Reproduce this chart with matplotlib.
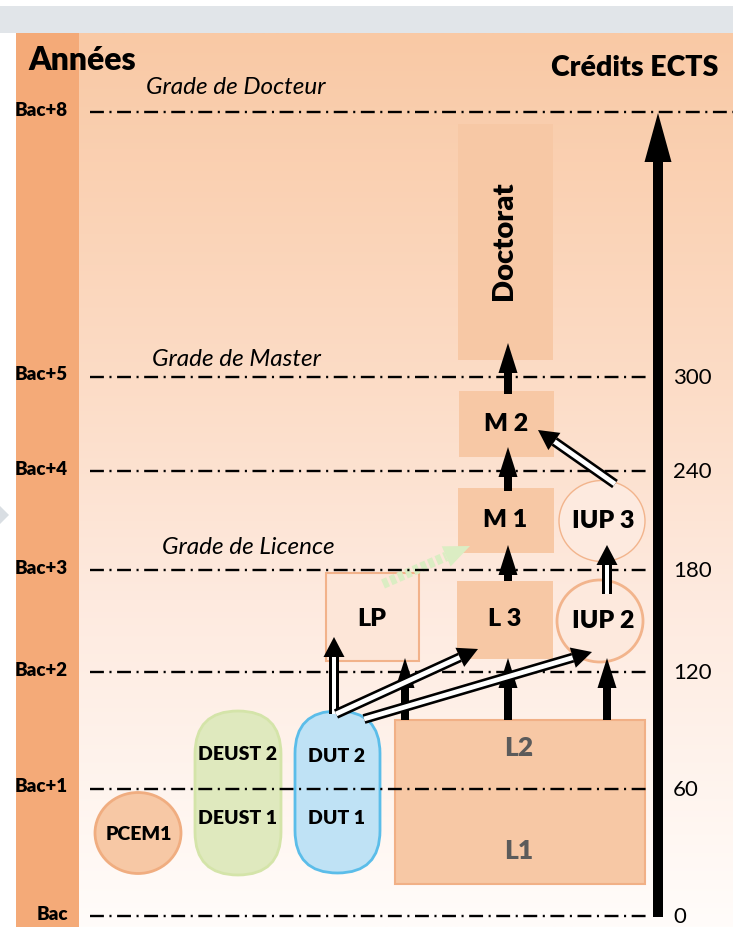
"""Schéma LMD : années après le Bac, crédits ECTS et parcours possibles."""

import matplotlib
matplotlib.use("Agg")
import matplotlib.pyplot as plt
import numpy as np
from matplotlib.colors import to_rgb
from matplotlib.patches import Ellipse, FancyBboxPatch, Polygon, Rectangle

plt.rcParams["font.family"] = ["Lato", "DejaVu Sans"]
plt.rcParams["lines.scale_dashes"] = False

# --- data -------------------------------------------------------------------
LEVELS = ["Bac", "Bac+1", "Bac+2", "Bac+3", "Bac+4", "Bac+5", "Bac+8"]
CREDITS = ["0", "60", "120", "180", "240", "300"]
GRADES = ["Grade de Licence", "Grade de Master", "Grade de Docteur"]
DEUST = ["DEUST 2", "DEUST 1"]
DUT = ["DUT 2", "DUT 1"]
LICENCE = ["L2", "L1"]

# --- layout (pixels, y downwards) --------------------------------------------
LEVEL_Y = [916, 789, 672, 570, 471, 377, 112]
GRADE_POS = [(162, 547), (152, 359), (146, 87)]
BOX_FC = "#f7c8a5"
BOX_EC = "#f1b086"
HEAVY = "heavy"


def arrow(ax, p0, p1, shaft=7.0, head_w=19.0, head_l=28.0, hollow=False,
          color="black", z=6):
    """Arrow built from polygons in pixel coordinates."""
    p0 = np.asarray(p0, float)
    p1 = np.asarray(p1, float)
    u = (p1 - p0) / np.hypot(*(p1 - p0))
    n = np.array([-u[1], u[0]])
    base = p1 - u * head_l
    h = shaft / 2
    ax.add_patch(Polygon([p0 + n * h, base + n * h, base - n * h, p0 - n * h],
                         closed=True, fc=color, ec="none", zorder=z))
    if hollow:
        g = h - 2.6
        ax.add_patch(Polygon([p0 + n * g, base + n * g, base - n * g,
                              p0 - n * g], closed=True, fc="white",
                             ec="none", zorder=z))
    ax.add_patch(Polygon([p1, base + n * head_w / 2, base - n * head_w / 2],
                         closed=True, fc=color, ec="none", zorder=z))


def pill(ax, x, y, w, h, fc, ec, lw):
    ax.add_patch(FancyBboxPatch(
        (x, y), w, h, boxstyle=f"round,pad=0,rounding_size={w / 2}",
        fc=fc, ec=ec, lw=lw, zorder=3))


fig = plt.figure(figsize=(7.54, 9.27), dpi=100)
ax = fig.add_axes([0, 0, 1, 1])

# background: grey header, peach gradient, darker left band
ax.add_patch(Rectangle((0, 6), 733, 27, fc="#e1e5e9", ec="none", zorder=0))
stops_y = [33, 380, 600, 800, 927]
stops_c = ["#f9c9a5", "#fcdcc6", "#feeadf", "#fff5ef", "#fffcfa"]
yy = np.linspace(33, 927, 400)
rgb = np.array([to_rgb(c) for c in stops_c])
grad = np.stack([np.interp(yy, stops_y, rgb[:, k]) for k in range(3)], axis=-1)
ax.imshow(grad[:, None, :], extent=(16, 733, 927, 33), origin="upper",
          aspect="auto", zorder=0.5)
ax.set_xlim(0, 754)
ax.set_ylim(927, 0)
ax.axis("off")
ax.add_patch(Rectangle((16, 33), 63, 894, fc="#f4aa78", ec="none", zorder=1))
ax.add_patch(Polygon([(0, 506), (9, 515), (0, 524)], fc="#d9dee3",
                     ec="none", zorder=1))

ax.text(28, 60, "Années", fontsize=23, fontweight=HEAVY, va="center",
        zorder=7)
ax.text(718, 68, "Crédits ECTS", fontsize=20.5, fontweight=HEAVY,
        ha="right", va="center", zorder=7)

# level lines, year labels, credits
dash = (0, (10, 4, 1.5, 4))
for i, (lab, y) in enumerate(zip(LEVELS, LEVEL_Y)):
    x_end = 733 if lab == "Bac+8" else 648
    ax.plot([90, x_end], [y, y], color="black", lw=1.7, linestyle=dash,
            dash_capstyle="butt", zorder=4)
    ax.text(68, y - 2, lab, fontsize=13.5, fontweight=HEAVY,
            ha="right", va="center", zorder=7)
    if i < len(CREDITS):
        ax.text(673, y + 1, CREDITS[i], fontsize=16, ha="left",
                va="center", zorder=7)

for txt, (x, y) in zip(GRADES, GRADE_POS):
    ax.text(x, y, txt, fontsize=17.5, style="italic", ha="left",
            va="center", zorder=7)

# big ECTS arrow
arrow(ax, (658, 917), (658, 113), shaft=10, head_w=27, head_l=49, z=6)

# boxes
ax.add_patch(Rectangle((458, 124), 95, 236, fc=BOX_FC, ec="none", zorder=2))
ax.text(504, 241, "Doctorat", fontsize=21, fontweight=HEAVY, rotation=90,
        ha="center", va="center", zorder=7)
for x0, y0, w, h, lab, tx, ty in [
        (459, 391, 95, 66, "M 2", 506, 424),
        (458, 488, 96, 65, "M 1", 505, 520),
        (457, 581, 96, 78, "L 3", 505, 619)]:
    ax.add_patch(Rectangle((x0, y0), w, h, fc=BOX_FC, ec="none", zorder=2))
    ax.text(tx, ty, lab, fontsize=18, fontweight=HEAVY, ha="center",
            va="center", zorder=7)

ax.add_patch(Rectangle((326, 573), 93, 88, fc="#fde6d8", ec="#f2b28a",
                       lw=1.5, zorder=2))
ax.text(372, 619, "LP", fontsize=18, fontweight=HEAVY, ha="center",
        va="center", zorder=7)

ax.add_patch(Ellipse((602, 521), 86, 81, fc="#fdeadf", ec="#f2b48c", lw=1,
                     zorder=2))
ax.text(603, 521, "IUP 3", fontsize=18, fontweight=HEAVY, ha="center",
        va="center", zorder=7)
ax.add_patch(Ellipse((600, 621), 86, 82, fc="#fde9dd", ec="#f2b48c", lw=2,
                     zorder=2))
ax.text(603, 621, "IUP 2", fontsize=18, fontweight=HEAVY, ha="center",
        va="center", zorder=7)

ax.add_patch(Rectangle((395, 720), 250, 164, fc=BOX_FC, ec=BOX_EC, lw=1.5,
                       zorder=2))
for lab, ty in zip(LICENCE, [748, 851]):
    ax.text(519, ty, lab, fontsize=19, fontweight=HEAVY, color="#5b5b5b",
            ha="center", va="center", zorder=7)

ax.add_patch(Ellipse((138, 833), 86, 81, fc=BOX_FC, ec="#f0ad80", lw=2,
                     zorder=3))
ax.text(139, 834, "PCEM1", fontsize=14, fontweight=HEAVY,
        ha="center", va="center", zorder=7)

pill(ax, 195, 711, 86, 164, "#dfe9be", "#d4e4a9", 2)
pill(ax, 295, 711, 85, 162, "#bfe2f5", "#5bbde9", 2)
for lab, ty in zip(DEUST, [755, 819]):
    ax.text(238, ty, lab, fontsize=14, fontweight=HEAVY,
            ha="center", va="center", zorder=7)
for lab, ty in zip(DUT, [756, 819]):
    ax.text(337, ty, lab, fontsize=14, fontweight=HEAVY,
            ha="center", va="center", zorder=7)

# solid arrows
for p0, p1 in [((405, 720), (405, 658)), ((508, 720), (508, 658)),
               ((607, 720), (607, 658)), ((508, 581), (508, 545)),
               ((508, 491), (508, 447)), ((508, 394), (508, 343))]:
    arrow(ax, p0, p1, shaft=8, head_w=19, head_l=30)

# hollow (double-line) arrows
for p0, p1 in [((334, 714), (334, 637)), ((336, 714), (478, 649)),
               ((364, 719), (592, 652)), ((607, 594), (607, 545)),
               ((615, 484), (538, 430))]:
    arrow(ax, p0, p1, shaft=10, head_w=21, head_l=20, hollow=True)

# light green passerelle arrow LP -> M1
g0 = np.array([383.0, 584.0])
g1 = np.array([470.0, 546.0])
u = (g1 - g0) / np.hypot(*(g1 - g0))
nrm = np.array([-u[1], u[0]])
gb = g1 - u * 26
ax.plot([g0[0], gb[0]], [g0[1], gb[1]], color="#dbedc3", lw=7,
        linestyle=(0, (4, 2)), dash_capstyle="butt", zorder=3)
ax.add_patch(Polygon([g1, gb + nrm * 11, gb - nrm * 11], fc="#dbedc3",
                     ec="none", zorder=3))

fig.savefig("out.png", dpi=100)
